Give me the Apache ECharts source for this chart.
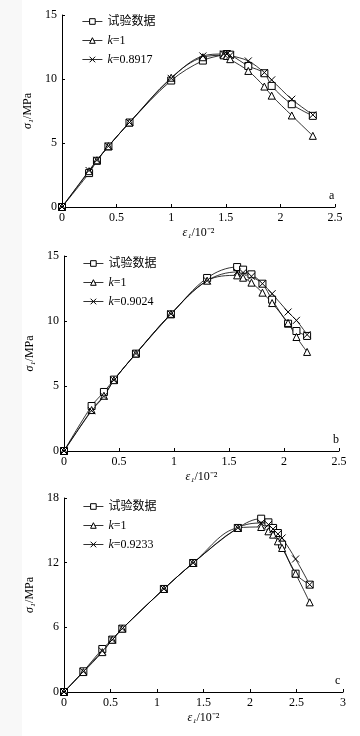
<!DOCTYPE html>
<html>
<head>
<meta charset="utf-8">
<script src="https://cdn.jsdelivr.net/npm/echarts@6/dist/echarts.min.js"></script>
<style>
html,body{margin:0;padding:0;background:#fff;}
#c{width:360px;height:736px;}
</style>
</head>
<body>
<div id="c"></div>
<script>
// Panel a
var aStrain = [0,0.248,0.32,0.425,0.618,1.0,1.29,1.48,1.51,1.54,1.706,1.853,1.92,2.104,2.297];
var aExp    = [0,2.65,3.61,4.73,6.6,9.88,11.44,11.9,11.95,11.9,11.02,10.45,9.46,8.03,7.12];
var aK1     = [0,2.8,3.65,4.75,6.6,10.1,11.7,11.85,11.8,11.55,10.63,9.41,8.7,7.15,5.56];
var aKfit   = [0,2.85,3.65,4.75,6.6,10.05,11.8,11.95,11.95,11.85,11.41,10.5,9.93,8.42,7.2];
// Panel b
var bStrain = [0,0.251,0.363,0.454,0.654,0.972,1.301,1.574,1.628,1.704,1.804,1.892,2.037,2.113,2.21];
var bExp    = [0,3.46,4.54,5.49,7.49,10.51,13.31,14.15,13.95,13.59,12.87,11.64,9.79,9.23,8.85];
var bK1     = [0,3.15,4.25,5.45,7.5,10.55,13.1,13.51,13.33,12.95,12.18,11.38,9.85,8.77,7.62];
var bKfit   = [0,3.1,4.2,5.45,7.5,10.55,13.1,13.77,13.72,13.44,12.87,12.1,10.69,10.05,8.95];
// Panel c
var cStrain = [0,0.208,0.412,0.519,0.627,1.074,1.389,1.869,2.12,2.198,2.248,2.3,2.345,2.49,2.642];
var cExp    = [0,1.92,3.99,4.86,5.88,9.56,11.97,15.22,16.08,15.74,15.22,14.75,13.67,10.98,9.96];
var cK1     = [0,1.85,3.7,4.85,5.88,9.56,11.97,15.22,15.31,14.91,14.6,13.98,13.36,10.98,8.32];
var cKfit   = [0,1.9,3.8,4.85,5.88,9.56,11.97,15.22,15.68,15.53,15.12,14.66,14.29,12.34,9.96];

var expName = '试验数据';
var k1Name = 'k=1';
var kNames = ['k=0.8917','k=0.9024','k=0.9233'];
var panelLetters = ['a','b','c'];
var xMax = [2.5,2.5,3];
var yMax = [15,15,18];
var yInterval = [5,5,6];

var SERIF = '"Liberation Serif","Times New Roman",serif';
var CJK = '"Liberation Serif","Noto Sans CJK SC",serif';

function zip(xs, ys){ return xs.map(function(x,i){ return [x, ys[i]]; }); }

var panels = [
  {strain:aStrain, exp:aExp, k1:aK1, kfit:aKfit},
  {strain:bStrain, exp:bExp, k1:bK1, kfit:bKfit},
  {strain:cStrain, exp:cExp, k1:cK1, kfit:cKfit}
];

var grids = [
  {left:62, top:15, width:273, height:192},
  {left:64, top:256, width:275, height:195},
  {left:64, top:498, width:279, height:194}
];
var legendPos = [{left:77, top:10},{left:78, top:252},{left:78, top:495}];
var letterPos = [[329,190],[333,434],[335,675]];

var axisLabelStyle = {color:'#000', fontFamily:SERIF, fontSize:12, margin:5};
var axisLineStyle = {show:true, lineStyle:{color:'#000', width:1}};
var tickStyle = {show:true, inside:true, length:3, lineStyle:{color:'#000'}};
var nameRich = {i:{fontStyle:'italic', fontFamily:SERIF, fontSize:12, color:'#000'}};

var option = {
  animation:false,
  backgroundColor:'#fff',
  grid: grids.map(function(g){ return Object.assign({containLabel:false}, g); }),
  xAxis: grids.map(function(g,i){
    return {
      gridIndex:i, type:'value', min:0, max:xMax[i], interval:0.5,
      axisLine:axisLineStyle, axisTick:tickStyle, splitLine:{show:false},
      axisLabel:axisLabelStyle,
      name:'{i|ε₁}/10⁻²', nameLocation:'middle', nameGap:20,
      nameTextStyle:{color:'#000', fontFamily:SERIF, fontSize:12, rich:nameRich}
    };
  }),
  yAxis: grids.map(function(g,i){
    return {
      gridIndex:i, type:'value', min:0, max:yMax[i], interval:yInterval[i],
      axisLine:axisLineStyle, axisTick:tickStyle, splitLine:{show:false},
      axisLabel:axisLabelStyle,
      name:'{i|σ₁}/MPa', nameLocation:'middle', nameGap:22, nameRotate:90,
      nameTextStyle:{color:'#000', fontFamily:SERIF, fontSize:12, rich:nameRich}
    };
  }),
  legend: legendPos.map(function(p,i){
    return {
      orient:'vertical', left:p.left, top:p.top,
      data:[expName, k1Name, kNames[i]],
      itemWidth:20, itemHeight:7, itemGap:6,
      selectedMode:false,
      itemStyle:{borderWidth:1},
      lineStyle:{width:0.8},
      formatter:function(name){ return name.charAt(0)==='k' ? '{i|k}' + name.slice(1) : name; },
      textStyle:{color:'#000', fontFamily:CJK, fontSize:12, lineHeight:13,
        rich:{i:{fontStyle:'italic', fontFamily:SERIF, fontSize:12, color:'#000'}}}
    };
  }),
  graphic: [
    {type:'rect', left:0, top:0, shape:{width:22, height:736}, style:{fill:'#f8f8f8'}, silent:true, z:-10}
  ].concat(letterPos.map(function(p,i){
    return {type:'text', left:p[0], top:p[1], style:{text:panelLetters[i], fill:'#000', font:'12px ' + SERIF}};
  })),
  series: []
};

var lineBase = {type:'line', smooth:0.35, symbolSize:7, lineStyle:{color:'#000', width:0.8}};
panels.forEach(function(p,i){
  option.series.push(Object.assign({}, lineBase, {
    name:expName, xAxisIndex:i, yAxisIndex:i, data:zip(p.strain, p.exp),
    symbol:'rect', itemStyle:{color:'#fff', borderColor:'#000', borderWidth:1}
  }));
  option.series.push(Object.assign({}, lineBase, {
    name:k1Name, xAxisIndex:i, yAxisIndex:i, data:zip(p.strain, p.k1),
    symbol:'triangle', itemStyle:{color:'#fff', borderColor:'#000', borderWidth:1}
  }));
  option.series.push(Object.assign({}, lineBase, {
    name:kNames[i], xAxisIndex:i, yAxisIndex:i, data:zip(p.strain, p.kfit),
    symbol:'path://M0,0L10,10M10,0L0,10', itemStyle:{color:'#000', borderColor:'#000', borderWidth:1}
  }));
});

var chart = echarts.init(document.getElementById('c'), null, {renderer:'canvas'});
chart.setOption(option);
</script>
</body>
</html>
